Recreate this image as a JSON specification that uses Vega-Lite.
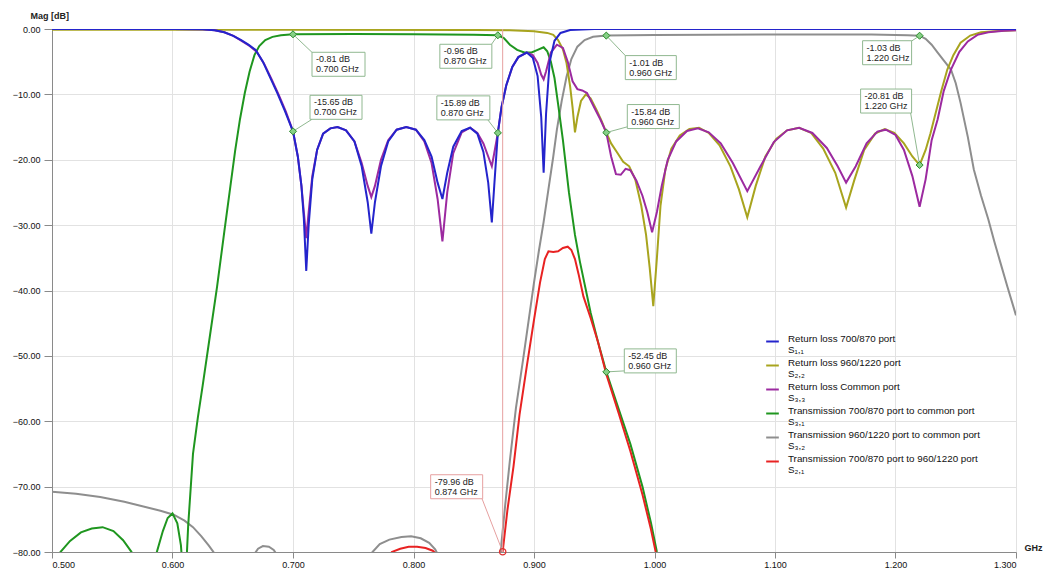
{
"$schema":"https://vega.github.io/schema/vega-lite/v6.json",
"width":964,"height":523,
"autosize":{"type":"none"},
"padding":{"left":52,"top":29,"right":42,"bottom":26},
"background":"white",
"config":{"view":{"stroke":null},"font":"Liberation Sans",
 "axis":{"gridColor":"#e2e2e2","domainColor":"#8a8a8a","tickColor":"#8a8a8a","labelColor":"#111","labelFontSize":9,"labelFont":"Liberation Sans","titleFont":"Liberation Sans","titleFontSize":9,"titleFontWeight":"bold","titleColor":"#222"}},
"datasets":{
"curves":[
{"s":"S32","f":0.5,"db":-70.8},{"s":"S32","f":0.52,"db":-71.1},{"s":"S32","f":0.54,"db":-71.6},{"s":"S32","f":0.56,"db":-72.3},{"s":"S32","f":0.575,"db":-73},{"s":"S32","f":0.59,"db":-73.7},{"s":"S32","f":0.601,"db":-74.3},{"s":"S32","f":0.61,"db":-75.2},{"s":"S32","f":0.617,"db":-76.2},{"s":"S32","f":0.624,"db":-77.6},{"s":"S32","f":0.63,"db":-79},{"s":"S32","f":0.634,"db":-80},{"s":"S32","f":0.64,"db":-83},{"s":"S32","f":0.655,"db":-86},{"s":"S32","f":0.668,"db":-80.3},{"s":"S32","f":0.671,"db":-79.5},{"s":"S32","f":0.675,"db":-79.1},{"s":"S32","f":0.68,"db":-79.2},{"s":"S32","f":0.684,"db":-79.7},{"s":"S32","f":0.687,"db":-80.5},{"s":"S32","f":0.72,"db":-90},{"s":"S32","f":0.766,"db":-80},{"s":"S32","f":0.772,"db":-78.8},{"s":"S32","f":0.78,"db":-78.1},{"s":"S32","f":0.79,"db":-77.7},{"s":"S32","f":0.798,"db":-77.6},{"s":"S32","f":0.806,"db":-77.9},{"s":"S32","f":0.813,"db":-78.6},{"s":"S32","f":0.818,"db":-79.6},{"s":"S32","f":0.822,"db":-81},{"s":"S32","f":0.85,"db":-90},{"s":"S32","f":0.872,"db":-80.5},{"s":"S32","f":0.876,"db":-73},{"s":"S32","f":0.88,"db":-66},{"s":"S32","f":0.885,"db":-58},{"s":"S32","f":0.891,"db":-50.5},{"s":"S32","f":0.896,"db":-44},{"s":"S32","f":0.9,"db":-38.8},{"s":"S32","f":0.904,"db":-34},{"s":"S32","f":0.908,"db":-29.5},{"s":"S32","f":0.912,"db":-24.5},{"s":"S32","f":0.916,"db":-19.5},{"s":"S32","f":0.919,"db":-15.4},{"s":"S32","f":0.923,"db":-11},{"s":"S32","f":0.927,"db":-7.3},{"s":"S32","f":0.931,"db":-4.6},{"s":"S32","f":0.936,"db":-2.7},{"s":"S32","f":0.942,"db":-1.7},{"s":"S32","f":0.949,"db":-1.2},{"s":"S32","f":0.96,"db":-1.01},{"s":"S32","f":1.0,"db":-0.9},{"s":"S32","f":1.1,"db":-0.85},{"s":"S32","f":1.18,"db":-0.85},{"s":"S32","f":1.21,"db":-0.95},{"s":"S32","f":1.22,"db":-1.03},{"s":"S32","f":1.225,"db":-1.5},{"s":"S32","f":1.23,"db":-2.4},{"s":"S32","f":1.235,"db":-3.6},{"s":"S32","f":1.24,"db":-4.8},{"s":"S32","f":1.246,"db":-6.2},{"s":"S32","f":1.25,"db":-8.3},{"s":"S32","f":1.254,"db":-11.3},{"s":"S32","f":1.26,"db":-16.5},{"s":"S32","f":1.265,"db":-21.5},{"s":"S32","f":1.271,"db":-25.5},{"s":"S32","f":1.277,"db":-29.1},{"s":"S32","f":1.282,"db":-32.5},{"s":"S32","f":1.287,"db":-35.7},{"s":"S32","f":1.293,"db":-39.5},{"s":"S32","f":1.3,"db":-43.8},

{"s":"S31","f":0.5,"db":-84},{"s":"S31","f":0.507,"db":-80},{"s":"S31","f":0.515,"db":-78.3},{"s":"S31","f":0.524,"db":-77},{"s":"S31","f":0.533,"db":-76.4},{"s":"S31","f":0.542,"db":-76.2},{"s":"S31","f":0.551,"db":-76.8},{"s":"S31","f":0.559,"db":-78.2},{"s":"S31","f":0.566,"db":-80},{"s":"S31","f":0.576,"db":-90},{"s":"S31","f":0.587,"db":-80},{"s":"S31","f":0.592,"db":-76.8},{"s":"S31","f":0.596,"db":-74.8},{"s":"S31","f":0.6,"db":-74.1},{"s":"S31","f":0.604,"db":-75.6},{"s":"S31","f":0.607,"db":-79},{"s":"S31","f":0.609,"db":-84},{"s":"S31","f":0.611,"db":-84},{"s":"S31","f":0.613,"db":-76},{"s":"S31","f":0.617,"db":-65},{"s":"S31","f":0.621,"db":-59.5},{"s":"S31","f":0.625,"db":-54.6},{"s":"S31","f":0.631,"db":-47},{"s":"S31","f":0.637,"db":-39.4},{"s":"S31","f":0.643,"db":-31},{"s":"S31","f":0.648,"db":-24.1},{"s":"S31","f":0.652,"db":-18.6},{"s":"S31","f":0.656,"db":-13.8},{"s":"S31","f":0.66,"db":-9.8},{"s":"S31","f":0.664,"db":-6.5},{"s":"S31","f":0.668,"db":-4},{"s":"S31","f":0.672,"db":-2.6},{"s":"S31","f":0.677,"db":-1.7},{"s":"S31","f":0.683,"db":-1.2},{"s":"S31","f":0.69,"db":-0.95},{"s":"S31","f":0.7,"db":-0.81},{"s":"S31","f":0.75,"db":-0.78},{"s":"S31","f":0.8,"db":-0.8},{"s":"S31","f":0.85,"db":-0.88},{"s":"S31","f":0.87,"db":-0.96},{"s":"S31","f":0.875,"db":-1.4},{"s":"S31","f":0.88,"db":-2.4},{"s":"S31","f":0.886,"db":-3.2},{"s":"S31","f":0.892,"db":-3.6},{"s":"S31","f":0.898,"db":-3.6},{"s":"S31","f":0.903,"db":-3.2},{"s":"S31","f":0.908,"db":-2.8},{"s":"S31","f":0.911,"db":-3.4},{"s":"S31","f":0.914,"db":-5},{"s":"S31","f":0.917,"db":-7.5},{"s":"S31","f":0.92,"db":-11.5},{"s":"S31","f":0.924,"db":-17},{"s":"S31","f":0.929,"db":-25},{"s":"S31","f":0.934,"db":-31.5},{"s":"S31","f":0.938,"db":-35.5},{"s":"S31","f":0.947,"db":-43.4},{"s":"S31","f":0.953,"db":-47.8},{"s":"S31","f":0.96,"db":-52.45},{"s":"S31","f":0.97,"db":-58},{"s":"S31","f":0.98,"db":-63.5},{"s":"S31","f":0.99,"db":-70},{"s":"S31","f":0.997,"db":-75.5},{"s":"S31","f":1.002,"db":-80},{"s":"S31","f":1.01,"db":-86},

{"s":"S21","f":0.775,"db":-83},{"s":"S21","f":0.782,"db":-80},{"s":"S21","f":0.789,"db":-79.5},{"s":"S21","f":0.796,"db":-79.2},{"s":"S21","f":0.803,"db":-79.2},{"s":"S21","f":0.81,"db":-79.4},{"s":"S21","f":0.816,"db":-79.8},{"s":"S21","f":0.82,"db":-80.5},{"s":"S21","f":0.845,"db":-92},{"s":"S21","f":0.874,"db":-79.96},{"s":"S21","f":0.878,"db":-73.5},{"s":"S21","f":0.883,"db":-66.9},{"s":"S21","f":0.888,"db":-59},{"s":"S21","f":0.894,"db":-51.6},{"s":"S21","f":0.9,"db":-44.5},{"s":"S21","f":0.905,"db":-38.8},{"s":"S21","f":0.909,"db":-35.2},{"s":"S21","f":0.912,"db":-34},{"s":"S21","f":0.916,"db":-34.1},{"s":"S21","f":0.92,"db":-34},{"s":"S21","f":0.924,"db":-33.5},{"s":"S21","f":0.928,"db":-33.3},{"s":"S21","f":0.931,"db":-33.8},{"s":"S21","f":0.934,"db":-35.2},{"s":"S21","f":0.937,"db":-37.5},{"s":"S21","f":0.941,"db":-40.9},{"s":"S21","f":0.947,"db":-44.2},{"s":"S21","f":0.953,"db":-47.8},{"s":"S21","f":0.96,"db":-52.8},{"s":"S21","f":0.97,"db":-58.6},{"s":"S21","f":0.98,"db":-64.6},{"s":"S21","f":0.99,"db":-71.2},{"s":"S21","f":0.997,"db":-76.5},{"s":"S21","f":1.001,"db":-80},{"s":"S21","f":1.01,"db":-86},

{"s":"S22","f":0.5,"db":-0.1},{"s":"S22","f":0.7,"db":-0.1},{"s":"S22","f":0.85,"db":-0.15},{"s":"S22","f":0.88,"db":-0.2},{"s":"S22","f":0.9,"db":-0.35},{"s":"S22","f":0.911,"db":-0.6},{"s":"S22","f":0.916,"db":-0.9},{"s":"S22","f":0.92,"db":-1.7},{"s":"S22","f":0.924,"db":-3.1},{"s":"S22","f":0.927,"db":-5.2},{"s":"S22","f":0.93,"db":-8.8},{"s":"S22","f":0.932,"db":-12},{"s":"S22","f":0.934,"db":-15.8},{"s":"S22","f":0.936,"db":-13.5},{"s":"S22","f":0.939,"db":-11},{"s":"S22","f":0.943,"db":-10},{"s":"S22","f":0.947,"db":-10.6},{"s":"S22","f":0.952,"db":-12.4},{"s":"S22","f":0.956,"db":-14},{"s":"S22","f":0.96,"db":-15.84},{"s":"S22","f":0.964,"db":-17.5},{"s":"S22","f":0.969,"db":-18.9},{"s":"S22","f":0.974,"db":-20.3},{"s":"S22","f":0.979,"db":-21},{"s":"S22","f":0.984,"db":-23},{"s":"S22","f":0.989,"db":-27},{"s":"S22","f":0.993,"db":-31.5},{"s":"S22","f":0.996,"db":-36.5},{"s":"S22","f":0.999,"db":-42.4},{"s":"S22","f":1.002,"db":-35},{"s":"S22","f":1.005,"db":-27},{"s":"S22","f":1.009,"db":-21.5},{"s":"S22","f":1.014,"db":-18.3},{"s":"S22","f":1.021,"db":-16.3},{"s":"S22","f":1.029,"db":-15.3},{"s":"S22","f":1.037,"db":-15.1},{"s":"S22","f":1.045,"db":-15.9},{"s":"S22","f":1.054,"db":-17.8},{"s":"S22","f":1.063,"db":-21},{"s":"S22","f":1.07,"db":-24.5},{"s":"S22","f":1.077,"db":-28.8},{"s":"S22","f":1.084,"db":-24},{"s":"S22","f":1.092,"db":-19.5},{"s":"S22","f":1.101,"db":-16.8},{"s":"S22","f":1.11,"db":-15.5},{"s":"S22","f":1.12,"db":-15.1},{"s":"S22","f":1.13,"db":-15.9},{"s":"S22","f":1.14,"db":-18.3},{"s":"S22","f":1.15,"db":-22},{"s":"S22","f":1.159,"db":-27.3},{"s":"S22","f":1.166,"db":-23},{"s":"S22","f":1.174,"db":-18.5},{"s":"S22","f":1.183,"db":-16},{"s":"S22","f":1.191,"db":-15.3},{"s":"S22","f":1.199,"db":-15.9},{"s":"S22","f":1.207,"db":-17.5},{"s":"S22","f":1.214,"db":-19.5},{"s":"S22","f":1.22,"db":-20.81},{"s":"S22","f":1.225,"db":-18.5},{"s":"S22","f":1.229,"db":-16},{"s":"S22","f":1.232,"db":-13.8},{"s":"S22","f":1.238,"db":-9.5},{"s":"S22","f":1.243,"db":-6.2},{"s":"S22","f":1.248,"db":-4},{"s":"S22","f":1.254,"db":-2.1},{"s":"S22","f":1.262,"db":-1},{"s":"S22","f":1.271,"db":-0.5},{"s":"S22","f":1.285,"db":-0.3},{"s":"S22","f":1.3,"db":-0.2},

{"s":"S33","f":0.5,"db":0},{"s":"S33","f":0.6,"db":0},{"s":"S33","f":0.625,"db":-0.05},{"s":"S33","f":0.635,"db":-0.2},{"s":"S33","f":0.643,"db":-0.5},{"s":"S33","f":0.651,"db":-1.1},{"s":"S33","f":0.658,"db":-1.9},{"s":"S33","f":0.664,"db":-2.6},{"s":"S33","f":0.67,"db":-3.5},{"s":"S33","f":0.676,"db":-5.3},{"s":"S33","f":0.682,"db":-7.6},{"s":"S33","f":0.688,"db":-10},{"s":"S33","f":0.694,"db":-12.6},{"s":"S33","f":0.7,"db":-15.65},{"s":"S33","f":0.704,"db":-19.5},{"s":"S33","f":0.707,"db":-24},{"s":"S33","f":0.709,"db":-28},{"s":"S33","f":0.711,"db":-32},{"s":"S33","f":0.713,"db":-28},{"s":"S33","f":0.716,"db":-22.5},{"s":"S33","f":0.72,"db":-18.5},{"s":"S33","f":0.725,"db":-16},{"s":"S33","f":0.731,"db":-15.2},{"s":"S33","f":0.737,"db":-15},{"s":"S33","f":0.744,"db":-15.5},{"s":"S33","f":0.751,"db":-17.2},{"s":"S33","f":0.757,"db":-20.5},{"s":"S33","f":0.762,"db":-24},{"s":"S33","f":0.765,"db":-25.7},{"s":"S33","f":0.768,"db":-24},{"s":"S33","f":0.773,"db":-20},{"s":"S33","f":0.779,"db":-17},{"s":"S33","f":0.786,"db":-15.4},{"s":"S33","f":0.794,"db":-15},{"s":"S33","f":0.802,"db":-15.4},{"s":"S33","f":0.809,"db":-17.2},{"s":"S33","f":0.815,"db":-20.5},{"s":"S33","f":0.82,"db":-26},{"s":"S33","f":0.824,"db":-32.5},{"s":"S33","f":0.828,"db":-25},{"s":"S33","f":0.833,"db":-19},{"s":"S33","f":0.84,"db":-15.8},{"s":"S33","f":0.847,"db":-15.1},{"s":"S33","f":0.853,"db":-15.9},{"s":"S33","f":0.858,"db":-17.5},{"s":"S33","f":0.862,"db":-19.5},{"s":"S33","f":0.865,"db":-21},{"s":"S33","f":0.867,"db":-19},{"s":"S33","f":0.87,"db":-15.89},{"s":"S33","f":0.873,"db":-12},{"s":"S33","f":0.877,"db":-8.6},{"s":"S33","f":0.882,"db":-5.8},{"s":"S33","f":0.887,"db":-4.3},{"s":"S33","f":0.894,"db":-3.6},{"s":"S33","f":0.899,"db":-4},{"s":"S33","f":0.903,"db":-5.2},{"s":"S33","f":0.906,"db":-7},{"s":"S33","f":0.908,"db":-7.7},{"s":"S33","f":0.91,"db":-6.5},{"s":"S33","f":0.914,"db":-3.6},{"s":"S33","f":0.919,"db":-2.4},{"s":"S33","f":0.924,"db":-2.9},{"s":"S33","f":0.928,"db":-5},{"s":"S33","f":0.932,"db":-8},{"s":"S33","f":0.936,"db":-9.2},{"s":"S33","f":0.94,"db":-9.4},{"s":"S33","f":0.944,"db":-9.8},{"s":"S33","f":0.95,"db":-12},{"s":"S33","f":0.955,"db":-13.8},{"s":"S33","f":0.96,"db":-15.84},{"s":"S33","f":0.964,"db":-19.5},{"s":"S33","f":0.968,"db":-22.2},{"s":"S33","f":0.972,"db":-22.3},{"s":"S33","f":0.976,"db":-21.4},{"s":"S33","f":0.98,"db":-21.6},{"s":"S33","f":0.985,"db":-23.2},{"s":"S33","f":0.99,"db":-25.5},{"s":"S33","f":0.994,"db":-28},{"s":"S33","f":0.998,"db":-31.1},{"s":"S33","f":1.002,"db":-28},{"s":"S33","f":1.006,"db":-24},{"s":"S33","f":1.011,"db":-20},{"s":"S33","f":1.018,"db":-17.2},{"s":"S33","f":1.027,"db":-15.6},{"s":"S33","f":1.036,"db":-15.2},{"s":"S33","f":1.045,"db":-15.8},{"s":"S33","f":1.055,"db":-17.5},{"s":"S33","f":1.065,"db":-20.5},{"s":"S33","f":1.077,"db":-24.8},{"s":"S33","f":1.088,"db":-21},{"s":"S33","f":1.099,"db":-17.3},{"s":"S33","f":1.11,"db":-15.5},{"s":"S33","f":1.12,"db":-15.1},{"s":"S33","f":1.131,"db":-15.9},{"s":"S33","f":1.143,"db":-18.2},{"s":"S33","f":1.152,"db":-21},{"s":"S33","f":1.159,"db":-23.5},{"s":"S33","f":1.167,"db":-21},{"s":"S33","f":1.176,"db":-17.5},{"s":"S33","f":1.185,"db":-15.7},{"s":"S33","f":1.192,"db":-15.4},{"s":"S33","f":1.2,"db":-16.2},{"s":"S33","f":1.207,"db":-18.5},{"s":"S33","f":1.214,"db":-22.5},{"s":"S33","f":1.22,"db":-27.2},{"s":"S33","f":1.225,"db":-23},{"s":"S33","f":1.23,"db":-17},{"s":"S33","f":1.235,"db":-13.8},{"s":"S33","f":1.24,"db":-9.5},{"s":"S33","f":1.246,"db":-6.2},{"s":"S33","f":1.253,"db":-3.5},{"s":"S33","f":1.26,"db":-1.9},{"s":"S33","f":1.268,"db":-0.9},{"s":"S33","f":1.277,"db":-0.5},{"s":"S33","f":1.29,"db":-0.25},{"s":"S33","f":1.3,"db":-0.2},

{"s":"S11","f":0.5,"db":0},{"s":"S11","f":0.6,"db":0},{"s":"S11","f":0.625,"db":-0.05},{"s":"S11","f":0.635,"db":-0.2},{"s":"S11","f":0.643,"db":-0.5},{"s":"S11","f":0.65,"db":-1},{"s":"S11","f":0.657,"db":-1.7},{"s":"S11","f":0.663,"db":-2.4},{"s":"S11","f":0.669,"db":-3.2},{"s":"S11","f":0.675,"db":-5},{"s":"S11","f":0.681,"db":-7.4},{"s":"S11","f":0.687,"db":-9.8},{"s":"S11","f":0.693,"db":-12.4},{"s":"S11","f":0.7,"db":-15.65},{"s":"S11","f":0.704,"db":-19.5},{"s":"S11","f":0.707,"db":-24},{"s":"S11","f":0.709,"db":-29},{"s":"S11","f":0.711,"db":-37},{"s":"S11","f":0.713,"db":-30},{"s":"S11","f":0.716,"db":-23},{"s":"S11","f":0.72,"db":-18.5},{"s":"S11","f":0.725,"db":-16},{"s":"S11","f":0.731,"db":-15.2},{"s":"S11","f":0.737,"db":-15},{"s":"S11","f":0.744,"db":-15.5},{"s":"S11","f":0.751,"db":-17.2},{"s":"S11","f":0.757,"db":-21},{"s":"S11","f":0.762,"db":-26.5},{"s":"S11","f":0.765,"db":-31.3},{"s":"S11","f":0.768,"db":-26.5},{"s":"S11","f":0.773,"db":-21},{"s":"S11","f":0.779,"db":-17.2},{"s":"S11","f":0.786,"db":-15.4},{"s":"S11","f":0.794,"db":-15},{"s":"S11","f":0.802,"db":-15.4},{"s":"S11","f":0.809,"db":-17},{"s":"S11","f":0.815,"db":-19.5},{"s":"S11","f":0.82,"db":-23.5},{"s":"S11","f":0.824,"db":-26},{"s":"S11","f":0.828,"db":-22},{"s":"S11","f":0.833,"db":-18},{"s":"S11","f":0.84,"db":-15.6},{"s":"S11","f":0.847,"db":-15.1},{"s":"S11","f":0.853,"db":-16},{"s":"S11","f":0.858,"db":-18.8},{"s":"S11","f":0.862,"db":-23.5},{"s":"S11","f":0.865,"db":-29.6},{"s":"S11","f":0.867,"db":-24},{"s":"S11","f":0.87,"db":-15.89},{"s":"S11","f":0.873,"db":-12},{"s":"S11","f":0.877,"db":-8.6},{"s":"S11","f":0.882,"db":-5.8},{"s":"S11","f":0.887,"db":-4.3},{"s":"S11","f":0.894,"db":-3.6},{"s":"S11","f":0.899,"db":-4.4},{"s":"S11","f":0.903,"db":-7.2},{"s":"S11","f":0.906,"db":-13.5},{"s":"S11","f":0.908,"db":-22},{"s":"S11","f":0.91,"db":-13},{"s":"S11","f":0.913,"db":-5},{"s":"S11","f":0.917,"db":-1.8},{"s":"S11","f":0.922,"db":-0.6},{"s":"S11","f":0.93,"db":-0.15},{"s":"S11","f":0.95,"db":0},{"s":"S11","f":1.3,"db":0}
],
"ann":[
{"id":1,"f":0.7,"db":-0.81,"t":"-0.81 dB\n0.700 GHz"},
{"id":2,"f":0.7,"db":-15.65,"t":"-15.65 dB\n0.700 GHz"},
{"id":3,"f":0.87,"db":-0.96,"t":"-0.96 dB\n0.870 GHz"},
{"id":4,"f":0.87,"db":-15.89,"t":"-15.89 dB\n0.870 GHz"},
{"id":5,"f":0.96,"db":-1.01,"t":"-1.01 dB\n0.960 GHz"},
{"id":6,"f":0.96,"db":-15.84,"t":"-15.84 dB\n0.960 GHz"},
{"id":7,"f":0.96,"db":-52.45,"t":"-52.45 dB\n0.960 GHz"},
{"id":8,"f":1.22,"db":-1.03,"t":"-1.03 dB\n1.220 GHz"},
{"id":9,"f":1.22,"db":-20.81,"t":"-20.81 dB\n1.220 GHz"},
{"id":10,"f":0.874,"db":-79.96,"t":"-79.96 dB\n0.874 GHz"}
]},
"encoding":{
 "x":{"field":"f","type":"quantitative","title":"GHz","scale":{"domain":[0.5,1.3],"nice":false,"zero":false},
  "axis":{"values":[0.5,0.6,0.7,0.8,0.9,1.0,1.1,1.2,1.3],"format":".3f","tickSize":6,"labelPadding":2,"titleX":972,"titleY":-5,"titleAlign":"left","titleBaseline":"middle","titleAnchor":null}},
 "y":{"field":"db","type":"quantitative","title":"Mag [dB]","scale":{"domain":[-80,0],"nice":false,"zero":false},
  "axis":{"values":[-80,-70,-60,-50,-40,-30,-20,-10,0],"format":".2f","tickSize":8,"labelPadding":4,"titleAngle":0,"titleX":-22,"titleY":-14,"titleAlign":"left","titleBaseline":"middle","titleAnchor":null}}
},
"layer":[
{"data":{"name":"curves"},
 "mark":{"type":"line","clip":true,"strokeWidth":2},
 "encoding":{"color":{"field":"s","type":"nominal",
  "scale":{"domain":["S11","S22","S33","S31","S32","S21"],"range":["#2424cc","#a8a41e","#9c2aa0","#1f961f","#8e8e8e","#e82222"]},
  "legend":{"orient":"none","legendX":713,"legendY":305,"title":null,"symbolType":"stroke","symbolStrokeWidth":2,"symbolSize":160,"labelFontSize":9.8,"labelColor":"#111","labelLimit":400,"rowPadding":1,"labelOffset":8,"labelLineHeight":12,"labelBaseline":"alphabetic",
   "labelExpr":"datum.label=='S11'?['Return loss 700/870 port','S₁,₁']:datum.label=='S22'?['Return loss 960/1220 port','S₂,₂']:datum.label=='S33'?['Return loss Common port','S₃,₃']:datum.label=='S31'?['Transmission 700/870 port to common port','S₃,₁']:datum.label=='S32'?['Transmission 960/1220 port to common port','S₃,₂']:['Transmission 700/870 port to 960/1220 port','S₂,₁']"}}}},
{"data":{"name":"ann"},"transform":[{"filter":"datum.id==10"}],
 "mark":{"type":"rule","color":"#e6a0a0","strokeWidth":1},
 "encoding":{"y":{"datum":0},"y2":{"datum":-80}}},
{"data":{"name":"ann"},"transform":[{"filter":"datum.id==1"}],"layer":[
 {"mark":{"type":"rule","color":"#90b890","x2Offset":20,"y2Offset":19},"encoding":{"x2":{"field":"f"},"y2":{"field":"db"}}},
 {"mark":{"type":"rect","fill":"white","stroke":"#90b890","xOffset":19,"x2Offset":72,"yOffset":18,"y2Offset":42},"encoding":{"x2":{"field":"f"},"y2":{"field":"db"}}},
 {"mark":{"type":"text","align":"left","baseline":"top","dx":23,"dy":21,"fontSize":9,"lineBreak":"\n","lineHeight":10,"color":"#222"},"encoding":{"text":{"field":"t"}}}]},
{"data":{"name":"ann"},"transform":[{"filter":"datum.id==2"}],"layer":[
 {"mark":{"type":"rule","color":"#90b890","x2Offset":19,"y2Offset":-12},"encoding":{"x2":{"field":"f"},"y2":{"field":"db"}}},
 {"mark":{"type":"rect","fill":"white","stroke":"#90b890","xOffset":17,"x2Offset":69,"yOffset":-36,"y2Offset":-12},"encoding":{"x2":{"field":"f"},"y2":{"field":"db"}}},
 {"mark":{"type":"text","align":"left","baseline":"top","dx":21,"dy":-33,"fontSize":9,"lineBreak":"\n","lineHeight":10,"color":"#222"},"encoding":{"text":{"field":"t"}}}]},
{"data":{"name":"ann"},"transform":[{"filter":"datum.id==3"}],"layer":[
 {"mark":{"type":"rule","color":"#90b890","x2Offset":-7,"y2Offset":10},"encoding":{"x2":{"field":"f"},"y2":{"field":"db"}}},
 {"mark":{"type":"rect","fill":"white","stroke":"#90b890","xOffset":-58,"x2Offset":-6,"yOffset":9,"y2Offset":33},"encoding":{"x2":{"field":"f"},"y2":{"field":"db"}}},
 {"mark":{"type":"text","align":"left","baseline":"top","dx":-54,"dy":12,"fontSize":9,"lineBreak":"\n","lineHeight":10,"color":"#222"},"encoding":{"text":{"field":"t"}}}]},
{"data":{"name":"ann"},"transform":[{"filter":"datum.id==4"}],"layer":[
 {"mark":{"type":"rule","color":"#90b890","x2Offset":-10,"y2Offset":-13},"encoding":{"x2":{"field":"f"},"y2":{"field":"db"}}},
 {"mark":{"type":"rect","fill":"white","stroke":"#90b890","xOffset":-61,"x2Offset":-8,"yOffset":-37,"y2Offset":-13},"encoding":{"x2":{"field":"f"},"y2":{"field":"db"}}},
 {"mark":{"type":"text","align":"left","baseline":"top","dx":-57,"dy":-34,"fontSize":9,"lineBreak":"\n","lineHeight":10,"color":"#222"},"encoding":{"text":{"field":"t"}}}]},
{"data":{"name":"ann"},"transform":[{"filter":"datum.id==5"}],"layer":[
 {"mark":{"type":"rule","color":"#90b890","x2Offset":20,"y2Offset":21},"encoding":{"x2":{"field":"f"},"y2":{"field":"db"}}},
 {"mark":{"type":"rect","fill":"white","stroke":"#90b890","xOffset":19,"x2Offset":70,"yOffset":20,"y2Offset":44},"encoding":{"x2":{"field":"f"},"y2":{"field":"db"}}},
 {"mark":{"type":"text","align":"left","baseline":"top","dx":23,"dy":23,"fontSize":9,"lineBreak":"\n","lineHeight":10,"color":"#222"},"encoding":{"text":{"field":"t"}}}]},
{"data":{"name":"ann"},"transform":[{"filter":"datum.id==6"}],"layer":[
 {"mark":{"type":"rule","color":"#90b890","x2Offset":22,"y2Offset":-6},"encoding":{"x2":{"field":"f"},"y2":{"field":"db"}}},
 {"mark":{"type":"rect","fill":"white","stroke":"#90b890","xOffset":21,"x2Offset":73,"yOffset":-28,"y2Offset":-4},"encoding":{"x2":{"field":"f"},"y2":{"field":"db"}}},
 {"mark":{"type":"text","align":"left","baseline":"top","dx":25,"dy":-25,"fontSize":9,"lineBreak":"\n","lineHeight":10,"color":"#222"},"encoding":{"text":{"field":"t"}}}]},
{"data":{"name":"ann"},"transform":[{"filter":"datum.id==7"}],"layer":[
 {"mark":{"type":"rule","color":"#90b890","x2Offset":18,"y2Offset":-1},"encoding":{"x2":{"field":"f"},"y2":{"field":"db"}}},
 {"mark":{"type":"rect","fill":"white","stroke":"#90b890","xOffset":18,"x2Offset":70,"yOffset":-23,"y2Offset":1},"encoding":{"x2":{"field":"f"},"y2":{"field":"db"}}},
 {"mark":{"type":"text","align":"left","baseline":"top","dx":22,"dy":-20,"fontSize":9,"lineBreak":"\n","lineHeight":10,"color":"#222"},"encoding":{"text":{"field":"t"}}}]},
{"data":{"name":"ann"},"transform":[{"filter":"datum.id==8"}],"layer":[
 {"mark":{"type":"rule","color":"#90b890","x2Offset":-9,"y2Offset":6},"encoding":{"x2":{"field":"f"},"y2":{"field":"db"}}},
 {"mark":{"type":"rect","fill":"white","stroke":"#90b890","xOffset":-57,"x2Offset":-8,"yOffset":5,"y2Offset":29},"encoding":{"x2":{"field":"f"},"y2":{"field":"db"}}},
 {"mark":{"type":"text","align":"left","baseline":"top","dx":-53,"dy":8,"fontSize":9,"lineBreak":"\n","lineHeight":10,"color":"#222"},"encoding":{"text":{"field":"t"}}}]},
{"data":{"name":"ann"},"transform":[{"filter":"datum.id==9"}],"layer":[
 {"mark":{"type":"rule","color":"#90b890","x2Offset":-9,"y2Offset":-52},"encoding":{"x2":{"field":"f"},"y2":{"field":"db"}}},
 {"mark":{"type":"rect","fill":"white","stroke":"#90b890","xOffset":-59,"x2Offset":-8,"yOffset":-76,"y2Offset":-52},"encoding":{"x2":{"field":"f"},"y2":{"field":"db"}}},
 {"mark":{"type":"text","align":"left","baseline":"top","dx":-55,"dy":-73,"fontSize":9,"lineBreak":"\n","lineHeight":10,"color":"#222"},"encoding":{"text":{"field":"t"}}}]},
{"data":{"name":"ann"},"transform":[{"filter":"datum.id==10"}],"layer":[
 {"mark":{"type":"rule","color":"#e6a0a0","x2Offset":-21,"y2Offset":-54},"encoding":{"x2":{"field":"f"},"y2":{"field":"db"}}},
 {"mark":{"type":"rect","fill":"white","stroke":"#e6a0a0","xOffset":-72,"x2Offset":-20,"yOffset":-77,"y2Offset":-53},"encoding":{"x2":{"field":"f"},"y2":{"field":"db"}}},
 {"mark":{"type":"text","align":"left","baseline":"top","dx":-68,"dy":-74,"fontSize":9,"lineBreak":"\n","lineHeight":10,"color":"#222"},"encoding":{"text":{"field":"t"}}}]},
{"data":{"name":"ann"},"transform":[{"filter":"datum.id<10"}],
 "mark":{"type":"point","shape":"diamond","filled":true,"fill":"#86d086","stroke":"#2a8a2a","strokeWidth":1,"size":50,"opacity":1}},
{"data":{"name":"ann"},"transform":[{"filter":"datum.id==10"}],
 "mark":{"type":"point","shape":"circle","filled":false,"stroke":"#e03030","strokeWidth":1.3,"size":40,"opacity":1}}
]
}
